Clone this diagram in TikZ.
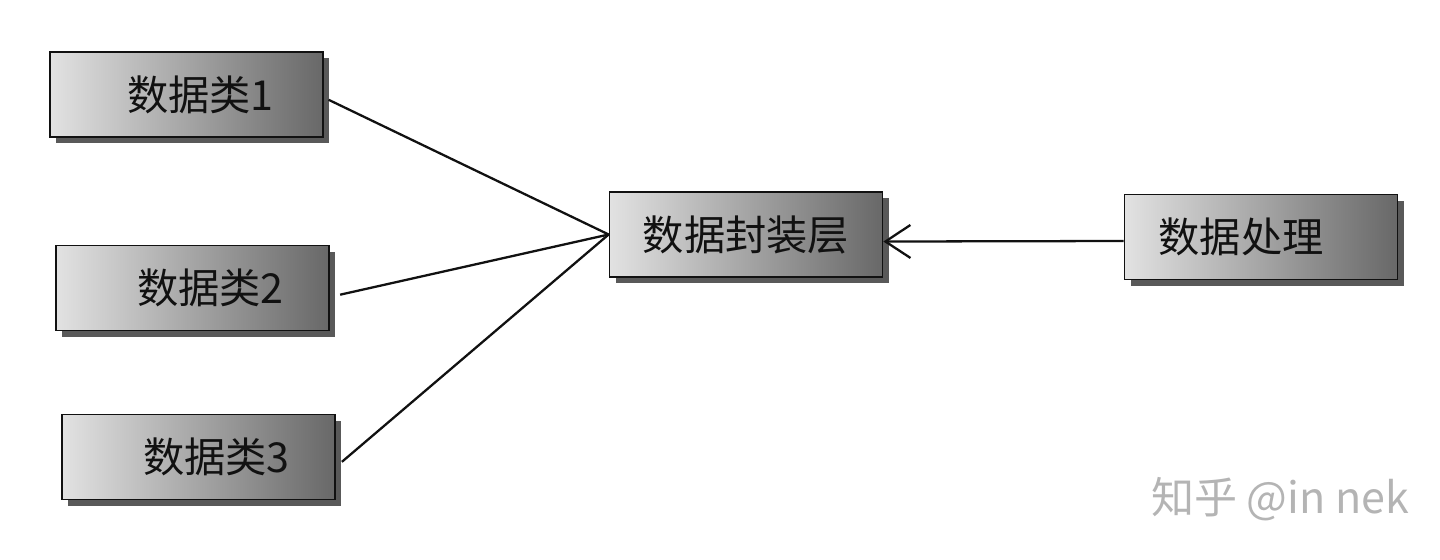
\documentclass[tikz,border=0pt]{standalone}
\usepackage{fontspec}
\setmainfont{Noto Sans CJK SC}
\usetikzlibrary{arrows.meta,shadows}
\definecolor{ink}{HTML}{111111}
\definecolor{boxlight}{HTML}{E2E2E2}
\definecolor{boxdark}{HTML}{686868}
\definecolor{mark}{HTML}{B4B4B4}

\begin{document}
\begin{tikzpicture}[x=0.02cm,y=0.02cm,
  font=\fontsize{23.5}{28}\selectfont, text=ink,
  layer/.style={draw=ink, line width=1pt, left color=boxlight, right color=boxdark,
                minimum width=5.46cm, minimum height=1.7cm, inner sep=0pt,
                drop shadow={shadow xshift=3.5pt, shadow yshift=-3.5pt,
                             fill=black, opacity=0.65}},
  link/.style={draw=ink, line width=1.3pt},
  uses/.style={draw=ink, line width=1.3pt, -{Straight Barb[length=0.5cm, width=0.66cm, line width=1.3pt]}}]

\path[use as bounding box] (0,0) rectangle (1440,559);

% ------------------------------------------------------------------ data classes
\node[layer] (class1) at (186.5,464.5) {\hspace*{0.56cm}数据类1};
\node[layer] (class2) at (192.5,271)   {\hspace*{0.72cm}数据类2};
\node[layer] (class3) at (198.5,102)   {\hspace*{0.72cm}数据类3};

% ------------------------------------------------------------------ wrapper + processing
\node[layer] (wrap) at (746,324.5) {数据封装层};
\node[layer] (proc) at (1261,322)  {数据处理\hspace*{0.8cm}};

\coordinate (join) at (wrap.west);
\draw[link, shorten <=3pt]   (class1.east) ++(0,-3) -- (join);
\draw[link, shorten <=6pt]   (class2.east) ++(0,-9) -- (join);
\draw[link, shorten <=4.5pt] (class3.east) ++(0,-10) -- (join);

\draw[uses] (proc.west) ++(0,-4) -- ([yshift=-4pt]wrap.east);

% watermark
\node[text=mark, anchor=west, font=\fontsize{24.5}{28}\selectfont] (sign) at (1145,60) {知乎 @in nek};
\end{tikzpicture}
\end{document}
